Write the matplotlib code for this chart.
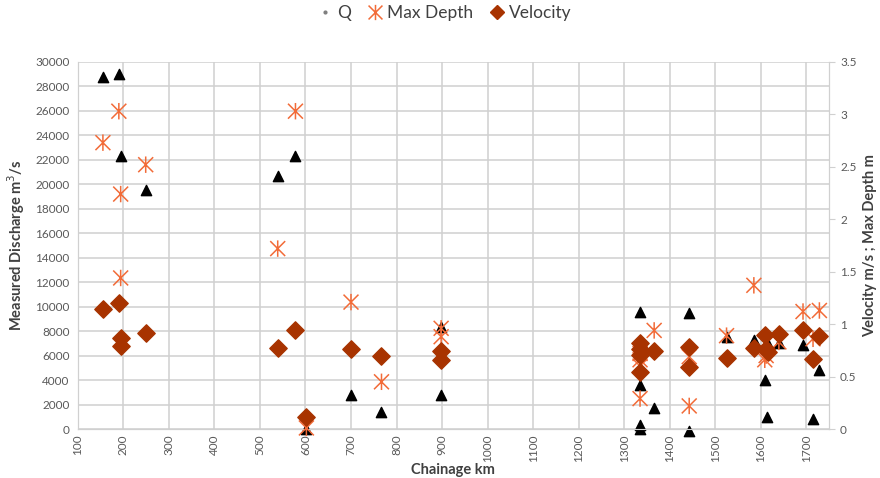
import matplotlib
matplotlib.use("Agg")
import matplotlib.pyplot as plt
from matplotlib.path import Path
from matplotlib.lines import Line2D

plt.rcParams["font.family"] = "Lato"

# Q - measured discharge (left axis)
q_km = [155, 190, 194, 249, 539, 578, 602, 700, 767, 898, 898, 1335, 1335, 1335, 1335,
        1366, 1443, 1443, 1525, 1585, 1609, 1614, 1614, 1640, 1693, 1715, 1729]
q_val = [28800, 29000, 22300, 19500, 20700, 22300, 0, 2800, 1400, 8300, 2800, 9600, 3600, 300, 0,
         1700, 9450, -150, 7500, 7300, 4000, 7100, 1000, 7000, 6900, 800, 4800]

# Max depth (right axis)
depth_km = [155, 190, 194, 194, 249, 539, 578, 602, 700, 767, 898, 898, 1335, 1335, 1335, 1335,
            1366, 1443, 1443, 1525, 1585, 1609, 1612, 1640, 1693, 1715, 1729]
depth_val = [2.73, 3.03, 2.24, 1.44, 2.52, 1.72, 3.03, 0.01, 1.21, 0.45, 0.96, 0.88, 0.72, 0.66, 0.60, 0.29,
             0.94, 0.69, 0.22, 0.89, 1.37, 0.66, 0.70, 0.83, 1.12, 0.86, 1.13]

# Velocity (right axis)
vel_km = [155, 190, 194, 194, 249, 539, 578, 602, 700, 767, 898, 898, 1335, 1335, 1335, 1335,
          1366, 1443, 1443, 1525, 1585, 1609, 1612, 1616, 1640, 1693, 1715, 1729]
vel_val = [1.14, 1.20, 0.87, 0.79, 0.92, 0.775, 0.945, 0.11, 0.765, 0.70, 0.745, 0.66, 0.82, 0.76, 0.71, 0.54,
           0.74, 0.785, 0.595, 0.68, 0.775, 0.895, 0.765, 0.73, 0.905, 0.945, 0.665, 0.887]

x_ticks = list(range(100, 1800, 100))

orange = "#F26B38"
rust = "#A83300"
grid_c = "#D0D0D0"
txt_c = "#595959"

# excel style asterisk: an X with a vertical bar
star = Path([(-1, -1), (1, 1), (-1, 1), (1, -1), (0, -1.1), (0, 1.1)],
            [Path.MOVETO, Path.LINETO, Path.MOVETO, Path.LINETO, Path.MOVETO, Path.LINETO])

fig = plt.figure(figsize=(8.8, 4.78), dpi=100)
ax = fig.add_axes([0.0885, 0.1025, 0.8535, 0.768])
ax2 = ax.twinx()

ax.scatter(q_km, q_val, marker="^", s=55, color="black", zorder=3, clip_on=False)
ax2.scatter(depth_km, depth_val, marker=star, s=140, facecolor="none", edgecolor=orange,
            linewidths=1.1, zorder=3, clip_on=False)
ax2.scatter(vel_km, vel_val, marker="D", s=78, color=rust, zorder=4, clip_on=False)

ax.set_xlim(100, 1750)
ax.set_ylim(0, 30000)
ax2.set_ylim(0, 3.5)
ax.set_xticks(x_ticks)
ax.set_yticks(range(0, 30001, 2000))
ax2.set_yticks([0, 0.5, 1, 1.5, 2, 2.5, 3, 3.5])
ax2.set_yticklabels(["0", "0.5", "1", "1.5", "2", "2.5", "3", "3.5"])

ax.grid(True, color=grid_c, linewidth=1.1)
ax.set_axisbelow(True)
for a in (ax, ax2):
    for s in a.spines.values():
        s.set_color(grid_c)
    a.spines["top"].set_visible(False)

ax.tick_params(axis="x", length=0, labelsize=8.5, labelcolor=txt_c, labelrotation=90, pad=4)
ax.tick_params(axis="y", length=0, labelsize=8.5, labelcolor=txt_c, pad=6)
ax2.tick_params(axis="y", length=4, color=grid_c, labelsize=8.5, labelcolor=txt_c, pad=4)

ax.set_xlabel("Chainage km", fontsize=10.5, fontweight="bold", color="#404040", labelpad=1)
ax.set_ylabel("Measured Discharge m$^3$/s", fontsize=10.5, fontweight="bold", color="#404040", labelpad=6)
ax2.set_ylabel("Velocity m/s ; Max Depth m", fontsize=10.5, fontweight="bold", color="#404040", labelpad=5)

handles = [
    Line2D([], [], linestyle="none", marker=".", markersize=4, color="#7F7F7F"),
    Line2D([], [], linestyle="none", marker=star, markersize=11, markerfacecolor="none",
           markeredgecolor=orange, markeredgewidth=1.1),
    Line2D([], [], linestyle="none", marker="D", markersize=7, color=rust),
]
fig.legend(handles, ["Q", "Max Depth", "Velocity"], loc="center", bbox_to_anchor=(0.505, 0.972),
           ncol=3, frameon=False, fontsize=12.5, handlelength=0.9, handletextpad=0.25,
           columnspacing=0.9, labelcolor="#404040")

fig.savefig("out.png", dpi=100)
